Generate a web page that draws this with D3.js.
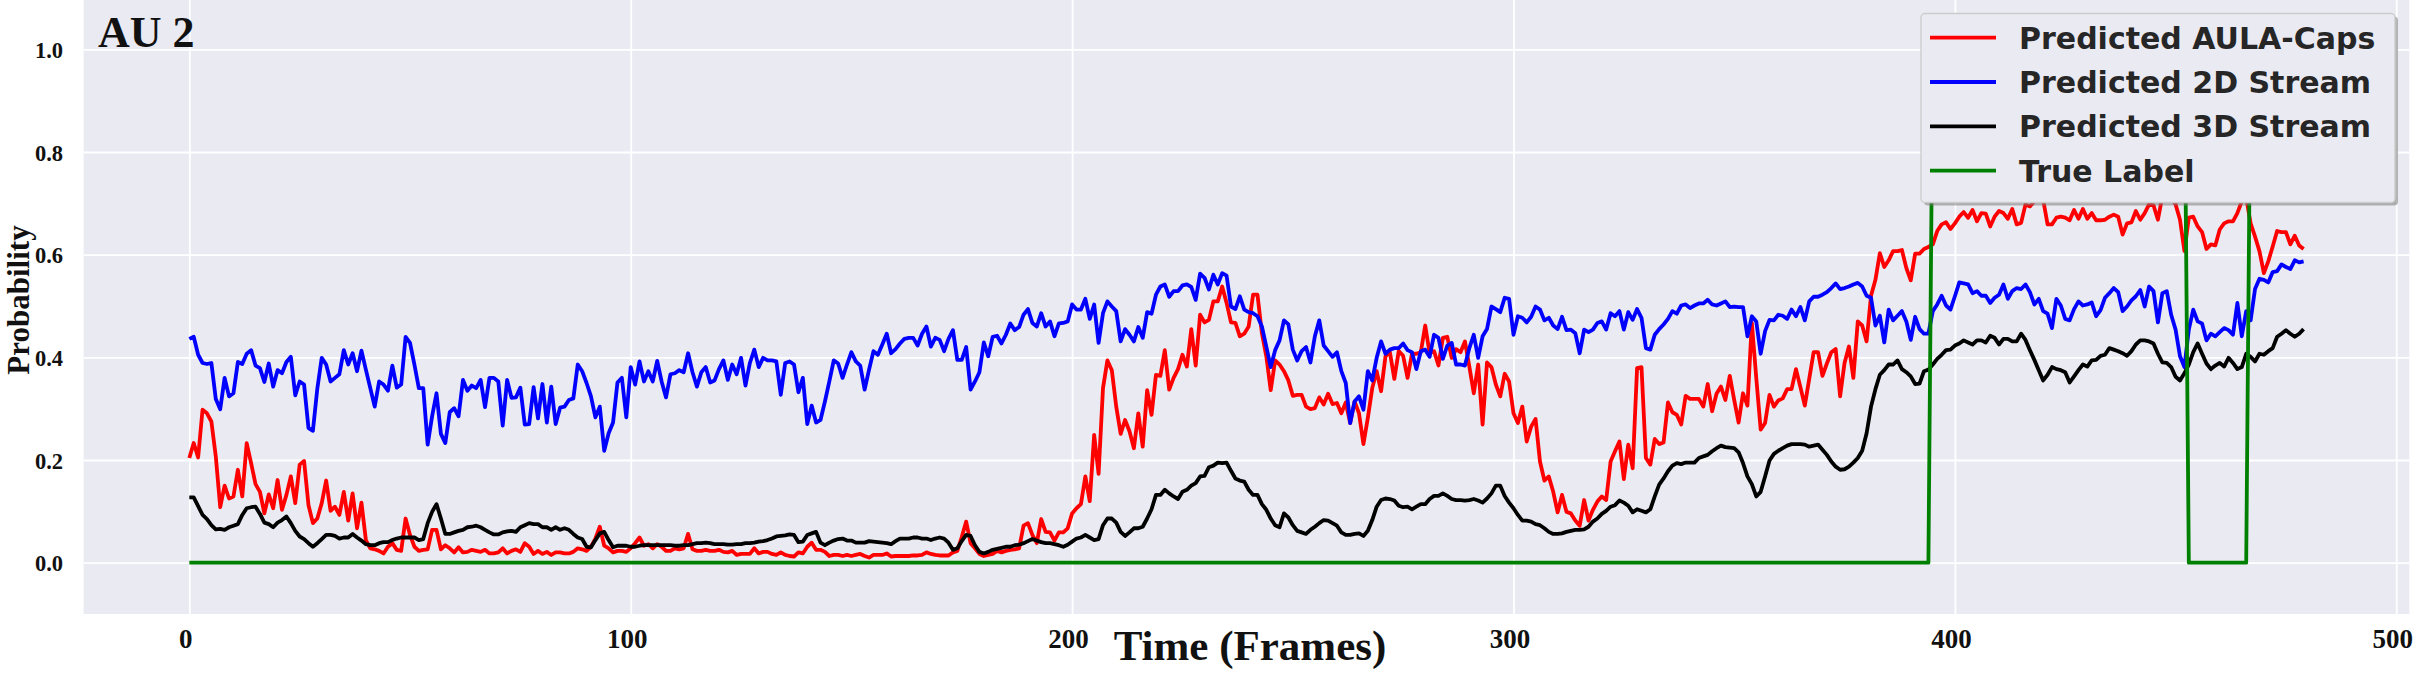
<!DOCTYPE html>
<html><head><meta charset="utf-8">
<script src="https://cdn.jsdelivr.net/npm/d3@7"></script>
<style>
html,body{margin:0;padding:0;background:#fff;}
svg{display:block;}
</style></head><body>
<svg id="chart" width="2429" height="683"></svg>
<script>
// ---------- DATA ----------
const predictedAulaCaps = [
0.204,0.233,0.205,0.298,0.291,0.275,0.207,0.108,0.15,0.125,
0.129,0.181,0.129,0.233,0.194,0.153,0.138,0.096,0.133,0.106,
0.161,0.103,0.132,0.168,0.116,0.191,0.198,0.112,0.077,0.086,
0.116,0.16,0.101,0.109,0.093,0.138,0.082,0.135,0.067,0.117,
0.044,0.028,0.026,0.023,0.018,0.031,0.038,0.025,0.023,0.086,
0.054,0.031,0.023,0.025,0.026,0.064,0.064,0.026,0.034,0.028,
0.02,0.03,0.02,0.021,0.025,0.023,0.021,0.025,0.018,0.018,
0.02,0.028,0.018,0.023,0.026,0.021,0.038,0.031,0.017,0.023,
0.017,0.021,0.015,0.02,0.02,0.018,0.018,0.021,0.028,0.026,
0.023,0.031,0.047,0.07,0.033,0.028,0.02,0.023,0.023,0.021,
0.028,0.038,0.049,0.033,0.036,0.028,0.036,0.031,0.023,0.023,
0.028,0.026,0.028,0.056,0.026,0.023,0.023,0.025,0.023,0.023,
0.025,0.021,0.02,0.023,0.015,0.017,0.017,0.017,0.028,0.018,
0.021,0.021,0.017,0.015,0.02,0.015,0.013,0.012,0.02,0.018,
0.031,0.039,0.025,0.025,0.021,0.013,0.015,0.015,0.013,0.015,
0.013,0.015,0.017,0.013,0.01,0.015,0.015,0.015,0.018,0.012,
0.013,0.013,0.013,0.013,0.014,0.014,0.015,0.02,0.017,0.015,
0.014,0.014,0.014,0.02,0.023,0.05,0.08,0.038,0.028,0.017,
0.013,0.015,0.017,0.023,0.02,0.023,0.025,0.026,0.028,0.072,
0.077,0.054,0.038,0.085,0.06,0.059,0.043,0.059,0.059,0.067,
0.096,0.106,0.114,0.168,0.12,0.249,0.173,0.34,0.394,0.375,
0.304,0.251,0.278,0.256,0.223,0.291,0.226,0.336,0.288,0.366,
0.364,0.414,0.337,0.36,0.377,0.405,0.382,0.455,0.384,0.483,
0.468,0.473,0.509,0.509,0.538,0.506,0.468,0.467,0.441,0.446,
0.46,0.522,0.522,0.447,0.402,0.336,0.394,0.386,0.373,0.355,
0.325,0.327,0.327,0.304,0.299,0.301,0.322,0.308,0.329,0.309,
0.311,0.291,0.312,0.272,0.314,0.291,0.231,0.282,0.34,0.373,
0.334,0.402,0.41,0.358,0.412,0.403,0.36,0.407,0.407,0.41,
0.462,0.408,0.412,0.384,0.438,0.44,0.399,0.416,0.41,0.431,
0.382,0.33,0.386,0.269,0.39,0.381,0.347,0.324,0.368,0.353,
0.291,0.272,0.304,0.236,0.265,0.28,0.197,0.16,0.168,0.138,
0.098,0.132,0.099,0.096,0.082,0.072,0.122,0.082,0.103,0.119,
0.129,0.122,0.197,0.217,0.236,0.163,0.23,0.184,0.379,0.381,
0.204,0.191,0.241,0.231,0.234,0.312,0.293,0.288,0.269,0.325,
0.319,0.319,0.319,0.304,0.348,0.295,0.329,0.343,0.317,0.364,
0.317,0.273,0.33,0.306,0.467,0.36,0.259,0.272,0.327,0.304,
0.316,0.32,0.338,0.338,0.377,0.342,0.306,0.358,0.41,0.41,
0.364,0.388,0.41,0.416,0.324,0.389,0.421,0.36,0.47,0.462,
0.431,0.52,0.551,0.603,0.576,0.589,0.607,0.607,0.609,0.574,
0.55,0.602,0.602,0.611,0.615,0.62,0.646,0.659,0.663,0.65,
0.661,0.674,0.683,0.672,0.687,0.665,0.681,0.68,0.655,0.674,
0.685,0.681,0.67,0.689,0.659,0.662,0.698,0.694,0.704,0.72,
0.707,0.659,0.659,0.672,0.674,0.672,0.667,0.687,0.67,0.689,
0.67,0.681,0.667,0.667,0.668,0.674,0.678,0.674,0.639,0.661,
0.663,0.685,0.668,0.681,0.698,0.696,0.668,0.714,0.717,0.711,
0.698,0.668,0.607,0.672,0.674,0.655,0.644,0.611,0.62,0.618,
0.649,0.661,0.665,0.665,0.681,0.704,0.711,0.661,0.635,0.607,
0.564,0.587,0.616,0.646,0.644,0.644,0.62,0.637,0.618,0.611
];
const predicted2DStream = [
0.436,0.44,0.405,0.389,0.387,0.389,0.319,0.299,0.36,0.324,
0.33,0.391,0.387,0.407,0.414,0.384,0.379,0.352,0.388,0.343,
0.375,0.369,0.391,0.401,0.326,0.353,0.347,0.262,0.257,0.339,
0.399,0.386,0.353,0.36,0.367,0.414,0.386,0.408,0.373,0.413,
0.376,0.34,0.304,0.353,0.347,0.335,0.384,0.341,0.347,0.44,
0.428,0.386,0.34,0.34,0.23,0.285,0.33,0.251,0.233,0.293,
0.301,0.285,0.356,0.335,0.345,0.34,0.356,0.303,0.36,0.36,
0.353,0.267,0.356,0.321,0.322,0.341,0.269,0.27,0.342,0.281,
0.348,0.273,0.343,0.27,0.302,0.304,0.317,0.32,0.386,0.373,
0.35,0.324,0.283,0.304,0.218,0.252,0.273,0.351,0.36,0.283,
0.381,0.347,0.392,0.353,0.373,0.353,0.393,0.353,0.322,0.367,
0.369,0.375,0.371,0.408,0.371,0.343,0.371,0.381,0.351,0.355,
0.377,0.394,0.356,0.386,0.367,0.399,0.345,0.389,0.415,0.381,
0.399,0.394,0.394,0.392,0.327,0.389,0.392,0.386,0.332,0.36,
0.27,0.306,0.273,0.278,0.314,0.353,0.394,0.388,0.36,0.386,
0.41,0.392,0.384,0.337,0.376,0.412,0.405,0.425,0.446,0.408,
0.416,0.427,0.436,0.438,0.438,0.423,0.446,0.46,0.421,0.438,
0.434,0.412,0.436,0.453,0.395,0.395,0.42,0.337,0.353,0.371,
0.429,0.402,0.44,0.442,0.427,0.444,0.466,0.453,0.459,0.483,
0.494,0.467,0.46,0.486,0.46,0.47,0.441,0.466,0.467,0.47,
0.503,0.493,0.493,0.514,0.475,0.503,0.428,0.486,0.509,0.499,
0.49,0.431,0.455,0.444,0.431,0.459,0.438,0.488,0.485,0.522,
0.538,0.542,0.518,0.529,0.529,0.54,0.542,0.537,0.512,0.563,
0.555,0.532,0.561,0.542,0.564,0.559,0.499,0.494,0.519,0.493,
0.488,0.486,0.48,0.46,0.421,0.381,0.414,0.433,0.472,0.464,
0.415,0.394,0.412,0.42,0.39,0.441,0.472,0.423,0.412,0.401,
0.41,0.373,0.35,0.272,0.314,0.324,0.298,0.373,0.355,0.399,
0.431,0.407,0.415,0.418,0.418,0.427,0.414,0.41,0.377,0.412,
0.415,0.401,0.444,0.438,0.397,0.423,0.428,0.386,0.386,0.384,
0.418,0.444,0.399,0.441,0.455,0.499,0.494,0.488,0.516,0.514,
0.444,0.48,0.477,0.468,0.479,0.499,0.493,0.472,0.477,0.462,
0.455,0.479,0.453,0.454,0.447,0.408,0.454,0.449,0.454,0.467,
0.47,0.454,0.486,0.48,0.49,0.454,0.488,0.473,0.494,0.477,
0.418,0.415,0.444,0.455,0.464,0.475,0.49,0.485,0.501,0.503,
0.496,0.501,0.505,0.505,0.512,0.503,0.501,0.505,0.509,0.498,
0.499,0.498,0.498,0.441,0.48,0.47,0.407,0.451,0.473,0.472,
0.483,0.481,0.475,0.493,0.48,0.498,0.472,0.509,0.518,0.518,
0.522,0.527,0.535,0.544,0.533,0.535,0.538,0.542,0.545,0.538,
0.52,0.516,0.462,0.481,0.429,0.493,0.472,0.481,0.49,0.47,
0.434,0.479,0.455,0.446,0.446,0.49,0.503,0.52,0.501,0.493,
0.519,0.546,0.544,0.542,0.525,0.529,0.52,0.52,0.506,0.516,
0.522,0.542,0.514,0.529,0.535,0.533,0.542,0.527,0.503,0.514,
0.49,0.485,0.457,0.514,0.501,0.475,0.472,0.494,0.509,0.501,
0.503,0.507,0.48,0.492,0.516,0.525,0.535,0.527,0.49,0.499,
0.511,0.519,0.531,0.499,0.538,0.529,0.468,0.525,0.529,0.483,
0.454,0.402,0.381,0.454,0.493,0.47,0.466,0.433,0.446,0.441,
0.449,0.457,0.453,0.444,0.506,0.441,0.49,0.472,0.533,0.553,
0.551,0.546,0.566,0.568,0.581,0.576,0.572,0.589,0.585,0.587
];
const predicted3DStream = [
0.127,0.127,0.11,0.093,0.085,0.073,0.065,0.066,0.064,0.069,
0.072,0.075,0.093,0.106,0.108,0.109,0.095,0.078,0.075,0.069,
0.078,0.083,0.09,0.077,0.062,0.051,0.046,0.038,0.031,0.038,
0.046,0.054,0.054,0.052,0.047,0.049,0.049,0.056,0.049,0.043,
0.036,0.034,0.034,0.038,0.04,0.04,0.044,0.047,0.049,0.049,
0.049,0.049,0.044,0.046,0.077,0.099,0.114,0.086,0.056,0.056,
0.059,0.062,0.064,0.069,0.07,0.072,0.069,0.064,0.059,0.055,
0.055,0.059,0.061,0.062,0.06,0.069,0.073,0.077,0.075,0.075,
0.069,0.069,0.064,0.069,0.064,0.067,0.064,0.056,0.049,0.046,
0.031,0.03,0.044,0.057,0.06,0.044,0.03,0.033,0.033,0.033,
0.031,0.031,0.033,0.034,0.034,0.034,0.034,0.034,0.034,0.034,
0.033,0.033,0.034,0.034,0.036,0.038,0.038,0.039,0.038,0.036,
0.036,0.036,0.035,0.035,0.036,0.036,0.038,0.038,0.039,0.041,
0.042,0.044,0.047,0.051,0.052,0.053,0.055,0.054,0.04,0.041,
0.054,0.057,0.06,0.039,0.034,0.039,0.043,0.046,0.047,0.043,
0.043,0.039,0.039,0.039,0.042,0.041,0.04,0.039,0.038,0.036,
0.042,0.047,0.047,0.047,0.049,0.049,0.047,0.047,0.044,0.047,
0.049,0.047,0.039,0.025,0.028,0.042,0.054,0.052,0.034,0.021,
0.018,0.021,0.025,0.027,0.029,0.031,0.031,0.034,0.035,0.038,
0.042,0.046,0.043,0.04,0.038,0.038,0.036,0.034,0.031,0.035,
0.041,0.047,0.049,0.054,0.049,0.044,0.046,0.073,0.086,0.086,
0.078,0.06,0.052,0.059,0.067,0.067,0.07,0.086,0.104,0.132,
0.132,0.142,0.135,0.129,0.124,0.138,0.142,0.15,0.155,0.168,
0.169,0.186,0.189,0.195,0.194,0.195,0.179,0.164,0.16,0.158,
0.142,0.132,0.132,0.114,0.103,0.086,0.073,0.069,0.096,0.088,
0.073,0.062,0.059,0.056,0.064,0.07,0.077,0.083,0.082,0.077,
0.072,0.059,0.054,0.054,0.056,0.057,0.052,0.062,0.083,0.109,
0.122,0.125,0.124,0.121,0.111,0.108,0.109,0.104,0.109,0.114,
0.114,0.124,0.13,0.13,0.135,0.13,0.124,0.122,0.122,0.121,
0.122,0.124,0.121,0.117,0.125,0.135,0.15,0.15,0.13,0.117,
0.106,0.093,0.082,0.082,0.08,0.075,0.073,0.067,0.06,0.056,
0.056,0.057,0.06,0.062,0.064,0.064,0.065,0.07,0.08,0.086,
0.095,0.101,0.109,0.112,0.121,0.117,0.111,0.098,0.104,0.101,
0.098,0.104,0.129,0.152,0.164,0.178,0.189,0.194,0.192,0.195,
0.195,0.195,0.204,0.207,0.21,0.217,0.223,0.228,0.225,0.224,
0.223,0.215,0.194,0.168,0.153,0.129,0.138,0.168,0.199,0.212,
0.218,0.223,0.228,0.231,0.231,0.231,0.23,0.226,0.228,0.23,
0.22,0.21,0.197,0.187,0.181,0.182,0.187,0.195,0.204,0.218,
0.252,0.304,0.338,0.366,0.375,0.386,0.386,0.394,0.377,0.371,
0.363,0.348,0.349,0.373,0.376,0.386,0.397,0.405,0.414,0.415,
0.423,0.427,0.433,0.429,0.425,0.433,0.433,0.429,0.442,0.438,
0.425,0.436,0.436,0.431,0.431,0.446,0.434,0.414,0.395,0.375,
0.355,0.366,0.381,0.377,0.375,0.371,0.351,0.363,0.375,0.386,
0.382,0.394,0.395,0.403,0.405,0.418,0.415,0.412,0.408,0.403,
0.412,0.425,0.433,0.433,0.431,0.427,0.407,0.39,0.389,0.381,
0.362,0.355,0.369,0.386,0.41,0.427,0.407,0.388,0.377,0.384,
0.389,0.382,0.399,0.389,0.377,0.381,0.407,0.401,0.392,0.407,
0.405,0.412,0.418,0.44,0.446,0.453,0.446,0.44,0.446,0.455
];
// True label: frames where the step changes, with its value
const trueLabelFrames = [0, 394, 395, 452, 453, 466, 467, 479];
const trueLabelValues = [0, 0, 1, 1, 0, 0, 1, 1];

const seriesNames = ["Predicted AULA-Caps", "Predicted 2D Stream", "Predicted 3D Stream", "True Label"];
const seriesColors = ["#ff0000", "#0000ff", "#000000", "#008000"];
const xTickValues = [0, 100, 200, 300, 400, 500];
const yTickValues = [0.0, 0.2, 0.4, 0.6, 0.8, 1.0];
const yTickLabels = ["0.0", "0.2", "0.4", "0.6", "0.8", "1.0"];
const panelTitle = "AU 2";
const xAxisTitle = "Time (Frames)";
const yAxisTitle = "Probability";

// ---------- LAYOUT ----------
const svg = d3.select("#chart");
const plotL = 83.6, plotR = 2409.3, plotT = -2, plotB = 614;
const x = d3.scaleLinear().domain([-23.95, 502.95]).range([plotL, plotR]);
const y = d3.scaleLinear().domain([-0.1, 1.1]).range([plotB, plotT]);
const serif = "'Liberation Serif','Times New Roman',serif";

svg.append("rect").attr("width", 2429).attr("height", 683).attr("fill", "#ffffff");
svg.append("rect").attr("x", plotL).attr("y", 0).attr("width", plotR - plotL).attr("height", plotB)
  .attr("fill", "#eaeaf2");

svg.append("defs").append("clipPath").attr("id", "clip")
  .append("rect").attr("x", plotL).attr("y", 0).attr("width", plotR - plotL).attr("height", plotB);

// grid lines via axes
const gx = svg.append("g").attr("transform", `translate(0,${plotB})`)
  .call(d3.axisBottom(x).tickValues(xTickValues).tickSize(-(plotB)).tickFormat(""));
const gy = svg.append("g").attr("transform", `translate(${plotL},0)`)
  .call(d3.axisLeft(y).tickValues(yTickValues).tickSize(-(plotR - plotL)).tickFormat(""));
[gx, gy].forEach(g => {
  g.select(".domain").remove();
  g.selectAll(".tick line").attr("stroke", "#ffffff").attr("stroke-width", 1.8);
});

// tick labels
const xl = svg.append("g").attr("transform", `translate(-4,648)`)
  .call(d3.axisBottom(x).tickValues(xTickValues).tickSize(0).tickPadding(0).tickFormat(d3.format("d")));
xl.select(".domain").remove();
xl.selectAll("text").attr("font-family", serif).attr("font-weight", "bold").attr("font-size", 27)
  .attr("fill", "#111").attr("dy", 0).attr("y", 0);

const yl = svg.append("g").attr("transform", `translate(63,8)`)
  .call(d3.axisLeft(y).tickValues(yTickValues).tickSize(0).tickPadding(0).tickFormat((d, i) => yTickLabels[i]));
yl.select(".domain").remove();
yl.selectAll("text").attr("font-family", serif).attr("font-weight", "bold").attr("font-size", 22.5)
  .attr("fill", "#111").attr("dy", 0).attr("x", 0);

// lines
const gLines = svg.append("g").attr("clip-path", "url(#clip)");
const line = d3.line().x((d, i) => x(i)).y(d => y(d));
[predictedAulaCaps, predicted2DStream, predicted3DStream].forEach((s, k) => {
  gLines.append("path").datum(s).attr("d", line).attr("fill", "none")
    .attr("stroke", seriesColors[k]).attr("stroke-width", 3.8)
    .attr("stroke-linejoin", "round").attr("stroke-linecap", "butt");
});
const tl = d3.line().x(d => x(d[0])).y(d => y(d[1]));
gLines.append("path").datum(trueLabelFrames.map((f, i) => [f, trueLabelValues[i]]))
  .attr("d", tl).attr("fill", "none").attr("stroke", seriesColors[3]).attr("stroke-width", 3.8)
  .attr("stroke-linejoin", "round");

// panel title
svg.append("text").attr("x", 98).attr("y", 46.5).text(panelTitle)
  .attr("font-family", serif).attr("font-weight", "bold").attr("font-size", 44).attr("fill", "#111");

// axis titles
svg.append("text").attr("x", 1250).attr("y", 660).attr("text-anchor", "middle").text(xAxisTitle)
  .attr("font-family", serif).attr("font-weight", "bold").attr("font-size", 43).attr("fill", "#111");
svg.append("text").attr("transform", "translate(29,300) rotate(-90)").attr("text-anchor", "middle")
  .text(yAxisTitle).attr("font-family", serif).attr("font-weight", "bold").attr("font-size", 31).attr("fill", "#111");

// legend
const lg = svg.append("g");
const LX = 1921, LY = 13.5, LW = 474, LH = 189;
lg.append("rect").attr("x", LX + 3).attr("y", LY + 3).attr("width", LW).attr("height", LH).attr("rx", 4)
  .attr("fill", "#7a7a7a").attr("opacity", 0.55);
lg.append("rect").attr("x", LX).attr("y", LY).attr("width", LW).attr("height", LH).attr("rx", 4)
  .attr("fill", "#eaeaf2").attr("stroke", "#cccccc").attr("stroke-width", 1.3);
seriesNames.forEach((name, i) => {
  const cy = 37.7 + i * 44.3;
  lg.append("line").attr("x1", 1930).attr("x2", 1996).attr("y1", cy).attr("y2", cy)
    .attr("stroke", seriesColors[i]).attr("stroke-width", 3.8);
  lg.append("text").attr("x", 2019).attr("y", cy + 11).text(name)
    .attr("font-family", "'DejaVu Sans',sans-serif").attr("font-weight", "bold").attr("font-size", 30)
    .attr("fill", "#262626");
});
</script>
</body></html>
